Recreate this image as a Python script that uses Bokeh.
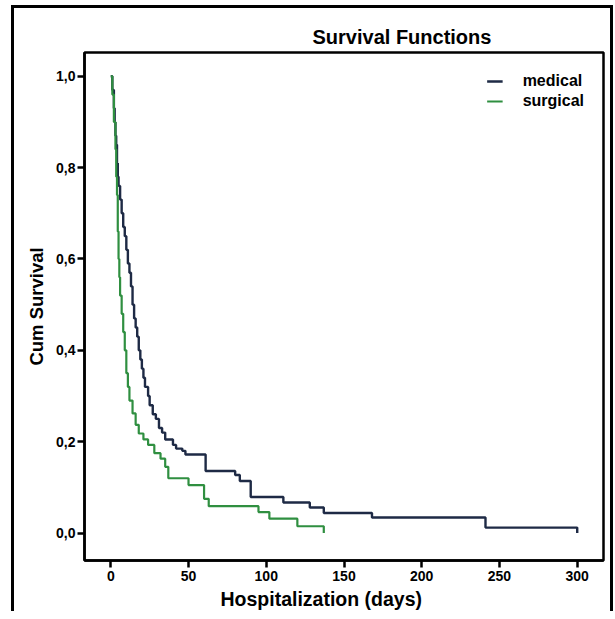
from bokeh.plotting import figure
from bokeh.models import Range1d, FixedTicker, Title, Legend, LegendItem
from bokeh.embed import file_html
from bokeh.resources import INLINE

# ---- data ----
medical_days = [0, 1, 2, 2.5, 3, 3.5, 4, 4.5, 5, 6, 7, 8, 9, 10, 11, 12, 13, 14, 15, 16, 17, 18, 19,
                20, 21, 22, 24, 25, 27, 29, 31, 33, 35, 40, 42, 46, 48, 61, 80, 83, 90, 111, 128,
                137, 168, 241, 300]
medical_surv = [1.0, 0.97, 0.93, 0.90, 0.87, 0.85, 0.81, 0.78, 0.76, 0.73, 0.70, 0.67, 0.65, 0.62,
                0.59, 0.57, 0.54, 0.50, 0.47, 0.45, 0.43, 0.40, 0.38, 0.36, 0.34, 0.32, 0.30, 0.28,
                0.26, 0.25, 0.23, 0.22, 0.205, 0.193, 0.185, 0.18, 0.172, 0.136, 0.127, 0.114,
                0.079, 0.067, 0.056, 0.044, 0.034, 0.012, 0.0]

surgical_days = [0, 1, 2, 3, 3.5, 4, 4.5, 5, 5.5, 6, 7, 8, 9, 10, 11, 12, 14, 16, 18, 21, 24, 28,
                 32, 35, 37, 50, 60, 63, 95, 102, 120, 137]
surgical_surv = [1.0, 0.96, 0.90, 0.84, 0.78, 0.74, 0.66, 0.60, 0.56, 0.52, 0.48, 0.44, 0.40, 0.35,
                 0.32, 0.29, 0.262, 0.237, 0.218, 0.205, 0.193, 0.175, 0.163, 0.145, 0.12, 0.105,
                 0.075, 0.059, 0.046, 0.0315, 0.015, 0.0]

series_names = ["medical", "surgical"]
x_ticks = [0, 50, 100, 150, 200, 250, 300]
y_ticks = [0.0, 0.2, 0.4, 0.6, 0.8, 1.0]
y_tick_labels = ["0,0", "0,2", "0,4", "0,6", "0,8", "1,0"]

title_text = "Survival Functions"
x_title = "Hospitalization (days)"
y_title = "Cum Survival"

FONT = "Liberation Sans"
MED_COLOR = "#1e2a45"
SUR_COLOR = "#2f8f40"

p = figure(width=602, height=606, output_backend="svg", toolbar_location=None,
           x_range=Range1d(-16.9, 316.9), y_range=Range1d(-0.06, 1.052),
           min_border_left=70, min_border_right=13, min_border_top=44, min_border_bottom=54)

p.styles = {"border": "3px solid black", "border-bottom": "none",
            "margin-left": "11px", "margin-top": "5px"}

p.xgrid.visible = False
p.ygrid.visible = False
p.outline_line_color = "black"
p.outline_line_width = 2.5
p.background_fill_color = "white"
p.border_fill_color = "white"

r_med = p.step(medical_days, medical_surv, mode="after", line_color=MED_COLOR, line_width=2.4)
r_sur = p.step(surgical_days, surgical_surv, mode="after", line_color=SUR_COLOR, line_width=2.2)

# axes
for ax in (p.xaxis[0], p.yaxis[0]):
    ax.axis_line_color = "black"
    ax.axis_line_width = 2.5
    ax.major_tick_line_width = 2.5
    ax.major_tick_line_color = "black"
    ax.major_tick_out = 7
    ax.major_tick_in = 0
    ax.minor_tick_line_color = None
    ax.major_label_text_font = FONT
    ax.major_label_text_font_style = "bold"
    ax.major_label_text_font_size = "14px"
    ax.major_label_text_color = "black"

p.xaxis.ticker = FixedTicker(ticks=x_ticks)
p.xaxis.major_label_standoff = 3
p.yaxis.ticker = FixedTicker(ticks=y_ticks)
p.yaxis.major_label_overrides = {t: l for t, l in zip(y_ticks, y_tick_labels)}
p.yaxis.major_label_standoff = 2

p.yaxis.axis_label = y_title
p.yaxis.axis_label_text_font = FONT
p.yaxis.axis_label_text_font_style = "bold"
p.yaxis.axis_label_text_font_size = "18.5px"
p.yaxis.axis_label_text_color = "black"
p.yaxis.axis_label_standoff = 6

# titles
p.title.text = title_text
p.title.align = "left"
p.title.offset = 228
p.title.text_font = FONT
p.title.text_font_style = "bold"
p.title.text_font_size = "20px"
p.title.text_color = "black"
p.title.standoff = 10

p.add_layout(Title(text=x_title, align="left", offset=136, text_font=FONT,
                   text_font_style="bold", text_font_size="19.5px", text_color="black",
                   standoff=5), "below")

legend = Legend(items=[LegendItem(label=series_names[0], renderers=[r_med]),
                       LegendItem(label=series_names[1], renderers=[r_sur])],
                location="top_right", margin=19, padding=1, spacing=0,
                glyph_width=16, glyph_height=20, label_height=20, label_standoff=20,
                label_text_font=FONT, label_text_font_style="bold",
                label_text_font_size="16px", label_text_color="black",
                background_fill_alpha=0, border_line_color=None)
p.add_layout(legend)

open("out.html", "w").write(file_html(p, INLINE))
